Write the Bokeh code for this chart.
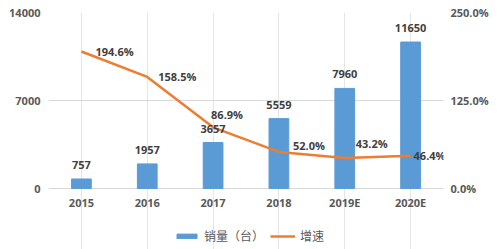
from bokeh.plotting import figure
from bokeh.models import (ColumnDataSource, Range1d, LinearAxis,
                          FixedTicker, NumeralTickFormatter, Legend, LegendItem)
from bokeh.core.properties import value
from bokeh.embed import file_html
from bokeh.resources import INLINE

years = ["2015", "2016", "2017", "2018", "2019E", "2020E"]
sales = [757, 1957, 3657, 5559, 7960, 11650]
growth = [1.946, 1.585, 0.869, 0.520, 0.432, 0.464]
growth_labels = ["194.6%", "158.5%", "86.9%", "52.0%", "43.2%", "46.4%"]
left_ticks = [0, 7000, 14000]
right_ticks = [0, 1.25, 2.5]
left_max = 14000
right_max = 2.5

# label placement (style only)
g_dx = [14, 11, -2, 14, 11, 3]
g_dy = [0, 0, -13, -6, -15, 0]

BLUE = "#5B9BD5"
ORANGE = "#ED7D31"
TXT = "#404040"
AX = "#595959"
GRID = "#D9D9D9"
FONT = "Open Sans"
CJK = "Noto Sans CJK SC"
FS = "11px"

# layout: value area 176 px tall, 61 px extra below zero for x labels + legend
PLOT_H = 176
BELOW = 61
frac = BELOW / PLOT_H

idx = list(range(len(years)))
src = ColumnDataSource(dict(
    x=idx, year=years, sales=sales, slab=[str(s) for s in sales],
    growth=growth, glab=growth_labels, gdx=g_dx, gdy=g_dy,
    zero=[0] * len(years),
))

p = figure(frame_width=395, frame_height=PLOT_H + BELOW,
           x_range=Range1d(-0.5, len(years) - 0.5),
           y_range=Range1d(-left_max * frac, left_max),
           x_axis_location=None,
           output_backend="svg", toolbar_location=None,
           min_border_left=48, min_border_right=57, min_border_top=12,
           min_border_bottom=0)
p.extra_y_ranges = {"pct": Range1d(-right_max * frac, right_max)}
p.outline_line_color = None
p.background_fill_color = "white"
p.border_fill_color = "white"

bars = p.vbar(x="x", top="sales", width=0.3, source=src, color=BLUE)
line = p.line(x="x", y="growth", source=src, line_color=ORANGE, line_width=2.5,
              y_range_name="pct")

p.text(x="x", y="sales", text="slab", source=src, text_align="center",
       text_baseline="middle", y_offset=-14, text_font=value(FONT),
       text_font_style="bold", text_font_size=FS, text_color=TXT)
p.text(x="x", y="growth", text="glab", source=src, text_align="left",
       text_baseline="middle", x_offset="gdx", y_offset="gdy",
       text_font=value(FONT), text_font_style="bold", text_font_size=FS,
       text_color=TXT, y_range_name="pct")
# category labels under the zero line
p.text(x="x", y="zero", text="year", source=src, text_align="center",
       text_baseline="middle", y_offset=14, text_font=value(FONT),
       text_font_style="bold", text_font_size=FS, text_color=AX)


def style_axis(ax, standoff):
    ax.axis_line_color = None
    ax.major_tick_line_color = None
    ax.minor_tick_line_color = None
    ax.major_tick_out = 0
    ax.major_tick_in = 0
    ax.minor_tick_out = 0
    ax.minor_tick_in = 0
    ax.major_label_standoff = standoff
    ax.major_label_text_font = FONT
    ax.major_label_text_font_style = "bold"
    ax.major_label_text_font_size = FS
    ax.major_label_text_color = AX


p.yaxis.ticker = FixedTicker(ticks=left_ticks)
style_axis(p.yaxis[0], 8)

ra = LinearAxis(y_range_name="pct", ticker=FixedTicker(ticks=right_ticks),
                formatter=NumeralTickFormatter(format="0.0%"))
style_axis(ra, 7)
p.add_layout(ra, "right")

p.ygrid.grid_line_color = GRID

legend = Legend(items=[LegendItem(label="销量（台）", renderers=[bars]),
                       LegendItem(label="增速", renderers=[line])],
                orientation="horizontal", location=(126, 5),
                glyph_width=25, glyph_height=6, label_standoff=5, spacing=6,
                padding=4, margin=0, border_line_color=None,
                background_fill_alpha=0,
                label_text_font=CJK, label_text_font_size="12px",
                label_text_color=AX)
p.add_layout(legend, "center")

open("out.html", "w").write(file_html(p, INLINE))
